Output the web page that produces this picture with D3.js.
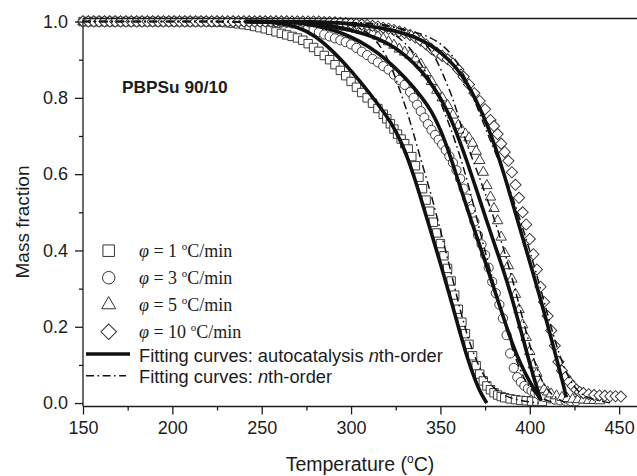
<!DOCTYPE html>
<html>
<head>
<meta charset="utf-8">
<script src="https://cdn.jsdelivr.net/npm/d3@7"></script>
<style>
  body { margin: 0; background: #fff; }
  svg { display: block; }
</style>
</head>
<body>
<div id="chart"></div>
<script>
// measured mass fraction vs temperature, one array per heating rate [T, m]
const rate1 = [
  [150,1],[153,1],[156,1],[159,1],[162,1],[165,1],[168,1],[171,1],[174,1],[177,1],[180,1],[183,1],[186,1],[189,1],[192,1],[195,1],[198,1],[201,1],[204,1],[207,1],[210,1],[213,1],[216,1],[219,1],
  [222,0.999],[225,0.999],[228,0.998],[231,0.997],[234,0.996],[237,0.994],[240,0.992],[243,0.99],[246,0.987],[249,0.984],[252,0.981],[255,0.977],[258,0.973],[261,0.969],[264,0.965],[267,0.961],[270,0.957],
  [273,0.951],[276,0.942],[279,0.932],[282,0.922],[285,0.911],[288,0.9],[291,0.887],[294,0.872],[297,0.858],[300,0.843],[303,0.828],[306,0.814],[309,0.8],[312,0.786],[315,0.772],[318,0.757],
  [320,0.745],[322,0.732],[324,0.718],[326,0.705],[328,0.692],[330,0.68],[332,0.666],[334,0.646],[336,0.622],[338,0.592],[340,0.562],[342,0.532],[344,0.503],[346,0.474],[348,0.446],[350,0.418],
  [352,0.386],[354,0.353],[356,0.32],[358,0.283],[360,0.246],[362,0.212],[364,0.182],[366,0.154],[368,0.124],[370,0.098],[372,0.076],[374,0.058],[376,0.045],[378,0.035],[380,0.027],[382,0.021],
  [384,0.017],[386,0.014],[389,0.011],[392,0.009],[395,0.007],[398,0.006],[401,0.005],[404,0.005],[407,0.004]
];
const rate3 = [
  [150,1],[153,1],[156,1],[159,1],[162,1],[165,1],[168,1],[171,1],[174,1],[177,1],[180,1],[183,1],[186,1],[189,1],[192,1],[195,1],[198,1],[201,1],[204,1],[207,1],[210,1],[213,1],[216,1],[219,1],
  [222,1],[225,1],[228,1],[231,1],[234,1],[237,1],[240,1],[243,1],[246,1],[249,1],[252,1],[255,1],
  [258,0.999],[261,0.998],[264,0.997],[267,0.995],[270,0.993],[273,0.99],[276,0.985],[279,0.978],[282,0.972],[285,0.966],[288,0.961],[291,0.956],[294,0.951],[297,0.946],[300,0.94],
  [303,0.931],[306,0.921],[309,0.912],[312,0.902],[315,0.893],[318,0.883],[321,0.874],[324,0.861],[327,0.847],[330,0.834],[333,0.815],[335,0.8],[337,0.782],[339,0.765],[341,0.748],
  [343,0.731],[345,0.716],[347,0.703],[349,0.69],[351,0.678],[353,0.663],[355,0.647],[357,0.63],[359,0.61],[361,0.588],[363,0.562],[365,0.536],[367,0.508],[369,0.476],[371,0.44],
  [373,0.416],[375,0.388],[377,0.355],[379,0.318],[381,0.288],[383,0.258],[385,0.222],[387,0.178],[389,0.13],[391,0.092],[393,0.068],[395,0.055],[397,0.045],[399,0.038],[401,0.032],
  [403,0.027],[405,0.022],[408,0.016],[411,0.012],[414,0.009],[417,0.007],[420,0.006],[423,0.005],[426,0.005]
];
const rate5 = [
  [150,1],[153,1],[156,1],[159,1],[162,1],[165,1],[168,1],[171,1],[174,1],[177,1],[180,1],[183,1],[186,1],[189,1],[192,1],[195,1],[198,1],[201,1],[204,1],[207,1],[210,1],[213,1],[216,1],[219,1],
  [222,1],[225,1],[228,1],[231,1],[234,1],[237,1],[240,1],[243,1],[246,1],[249,1],[252,1],[255,1],[258,1],[261,1],[264,1],
  [267,0.999],[270,0.999],[273,0.998],[276,0.997],[279,0.996],[282,0.995],[285,0.993],[288,0.991],[291,0.989],[294,0.987],[297,0.985],[300,0.983],[303,0.98],[306,0.977],[309,0.974],
  [312,0.97],[315,0.962],[318,0.955],[321,0.947],[324,0.938],[327,0.928],[330,0.92],[333,0.912],[336,0.902],[339,0.888],[342,0.866],[345,0.843],[348,0.82],[351,0.8],[354,0.78],[357,0.755],
  [360,0.728],[362,0.715],[364,0.705],[366,0.695],[368,0.681],[370,0.66],[372,0.636],[374,0.605],[376,0.57],[378,0.54],[380,0.51],[382,0.478],[384,0.435],[386,0.392],[388,0.36],[390,0.325],
  [392,0.285],[394,0.245],[396,0.205],[398,0.172],[400,0.135],[402,0.1],[404,0.078],[406,0.05],[408,0.036],[410,0.029],[412,0.024],[415,0.019],[418,0.015],[421,0.012],[424,0.01],[427,0.009],
  [430,0.008],[433,0.007],[436,0.007],[439,0.006]
];
const rate10 = [
  [150,1],[153,1],[156,1],[159,1],[162,1],[165,1],[168,1],[171,1],[174,1],[177,1],[180,1],[183,1],[186,1],[189,1],[192,1],[195,1],[198,1],[201,1],[204,1],[207,1],[210,1],[213,1],[216,1],[219,1],
  [222,1],[225,1],[228,1],[231,1],[234,1],[237,1],[240,1],[243,1],[246,1],[249,1],[252,1],[255,1],[258,1],[261,1],[264,1],[267,1],[270,1],[273,1],[276,1],[279,1],[282,1],
  [285,0.999],[288,0.999],[291,0.998],[294,0.997],[297,0.996],[300,0.995],[303,0.994],[306,0.992],[309,0.991],[312,0.989],[315,0.987],[318,0.984],[321,0.981],[324,0.978],[327,0.974],
  [330,0.97],[333,0.965],[336,0.958],[339,0.95],[342,0.94],[345,0.928],[348,0.918],[351,0.91],[354,0.901],[357,0.89],[360,0.874],[363,0.855],[366,0.835],[369,0.812],[372,0.792],[375,0.77],
  [378,0.742],[380,0.726],[382,0.705],[384,0.68],[386,0.658],[388,0.635],[390,0.605],[392,0.572],[394,0.538],[396,0.5],[398,0.468],[400,0.43],[402,0.39],[404,0.35],[406,0.305],[408,0.265],
  [410,0.228],[412,0.19],[414,0.15],[416,0.108],[418,0.085],[420,0.068],[422,0.056],[424,0.045],[426,0.035],[428,0.029],[430,0.026],[433,0.023],[436,0.021],[439,0.02],[442,0.019],
  [445,0.018],[448,0.018],[451,0.017]
];

// fitting curves: autocatalysis nth-order (solid)
const fitAuto1 = [[241,1],[250,0.999],[260,0.996],[270,0.987],[280,0.963],[290,0.922],[300,0.872],[310,0.815],[320,0.752],[325,0.714],[330,0.664],[335,0.598],[340,0.522],[345,0.445],[350,0.366],[355,0.285],[360,0.2],[365,0.118],[370,0.052],[373,0.022],[376,0.0]];
const fitAuto3 = [[241,1],[260,0.999],[270,0.997],[280,0.99],[290,0.978],[300,0.96],[310,0.935],[320,0.9],[330,0.855],[340,0.8],[345,0.765],[350,0.718],[355,0.655],[360,0.582],[365,0.51],[370,0.44],[375,0.372],[380,0.3],[385,0.228],[390,0.158],[395,0.1],[400,0.055],[404,0.024],[406.5,0.006]];
const fitAuto5 = [[241,1],[270,0.999],[290,0.99],[310,0.965],[320,0.945],[330,0.915],[340,0.868],[345,0.836],[350,0.8],[355,0.755],[360,0.697],[365,0.632],[370,0.562],[375,0.49],[380,0.42],[385,0.352],[390,0.277],[395,0.19],[400,0.103],[403,0.055],[406,0.01]];
const fitAuto10 = [[241,1],[280,1],[300,0.995],[320,0.982],[335,0.962],[345,0.938],[355,0.9],[362,0.862],[370,0.795],[376,0.732],[381,0.668],[386,0.594],[390,0.53],[394,0.465],[398,0.402],[402,0.338],[406,0.272],[410,0.205],[413,0.152],[416,0.098],[418,0.062],[420.5,0.015]];

// fitting curves: nth-order (dash-dot)
const fitNth1 = [[150,1],[285,1],[295,0.996],[305,0.985],[312,0.962],[318,0.925],[322,0.888],[326,0.838],[331,0.77],[335,0.706],[340,0.622],[345,0.545],[350,0.452],[355,0.362],[359,0.282],[363,0.21],[367,0.148],[372,0.09],[378,0.045],[386,0.017],[395,0.006],[405,0.0]];
const fitNth3 = [[150,1],[295,1],[310,0.992],[320,0.978],[328,0.955],[335,0.92],[341,0.875],[346,0.83],[350,0.79],[355,0.73],[360,0.662],[364,0.6],[368,0.53],[372,0.452],[376,0.38],[380,0.31],[385,0.225],[390,0.145],[395,0.08],[400,0.038],[406,0.012],[414,0.0]];
const fitNth5 = [[150,1],[305,1],[320,0.992],[332,0.975],[341,0.945],[347,0.91],[352,0.855],[357,0.8],[361,0.735],[365,0.675],[370,0.615],[375,0.55],[380,0.485],[385,0.41],[390,0.33],[395,0.24],[400,0.15],[404,0.088],[408,0.045],[413,0.018],[420,0.0]];
const fitNth10 = [[150,1],[300,1],[313,0.993],[327,0.983],[340,0.968],[350,0.945],[357,0.91],[362,0.874],[369,0.795],[375,0.722],[380,0.665],[385,0.608],[390,0.545],[395,0.475],[400,0.4],[405,0.318],[410,0.232],[415,0.148],[420,0.082],[425,0.04],[430,0.018],[438,0.006],[446,0.0]];

const xTicks = [150, 200, 250, 300, 350, 400, 450];
const xMinor = [175, 225, 275, 325, 375, 425];
const yTicks = [0, 0.2, 0.4, 0.6, 0.8, 1.0];
const yMinor = [0.1, 0.3, 0.5, 0.7, 0.9];
const rateLabels = ["1", "3", "5", "10"];

var width = 637, height = 476;
var margin = {top: 18.5, left: 83, right: 0, bottom: 69.5};
var w = width - margin.left - margin.right;
var h = height - margin.top - margin.bottom;
var ink = "#1c1c1c";

let svg = d3.select("#chart").append("svg")
    .attr("width", width)
    .attr("height", height)
    .style("font-family", "'Liberation Sans', Arial, sans-serif");

let g = svg.append("g")
    .attr("transform", "translate(" + margin.left + "," + margin.top + ")");

let x = d3.scaleLinear().domain([150, 460]).range([0, w]);
let y = d3.scaleLinear().domain([-0.009, 1.008]).range([h, 0]);

// marker shapes
function markerPath(kind, s) {
    if (kind == "square") return d3.symbol(d3.symbolSquare, s * s)();
    if (kind == "circle") return d3.symbol(d3.symbolCircle, Math.PI * s * s / 4)();
    if (kind == "triangle") return d3.symbol(d3.symbolTriangle, s * s * Math.sqrt(3) / 4)();
    return d3.symbol(d3.symbolSquare, s * s * 0.5)();
}

let seriesList = [
    {data: rate1, kind: "square", size: 8.4},
    {data: rate3, kind: "circle", size: 9.2},
    {data: rate5, kind: "triangle", size: 10.5},
    {data: rate10, kind: "diamond", size: 11.2}
];

seriesList.forEach(function (s) {
    g.append("g").selectAll("path")
        .data(s.data)
        .enter().append("path")
        .attr("d", markerPath(s.kind, s.size))
        .attr("transform", function (d) {
            return "translate(" + x(d[0]) + "," + y(d[1]) + ")" + (s.kind == "diamond" ? " rotate(45)" : "");
        })
        .attr("fill", "#fff")
        .attr("stroke", "#333")
        .attr("stroke-width", 0.95);
});

let line = d3.line()
    .x(d => x(d[0]))
    .y(d => y(d[1]))
    .curve(d3.curveBasis);

[fitNth1, fitNth3, fitNth5, fitNth10].forEach(function (d) {
    g.append("path")
        .datum(d)
        .attr("d", line)
        .attr("fill", "none")
        .attr("stroke", "#111")
        .attr("stroke-width", 1.5)
        .attr("stroke-dasharray", "8,3.5,1.6,3.5");
});

[fitAuto1, fitAuto3, fitAuto5, fitAuto10].forEach(function (d) {
    g.append("path")
        .datum(d)
        .attr("d", line)
        .attr("fill", "none")
        .attr("stroke", "#111")
        .attr("stroke-width", 3.6);
});

// top frame line
g.append("line")
    .attr("x1", 0).attr("x2", w)
    .attr("y1", 0).attr("y2", 0)
    .attr("stroke", ink)
    .attr("stroke-width", 1.3);

// axes
let xAxis = g.append("g")
    .attr("transform", "translate(0," + h + ")")
    .call(d3.axisBottom(x).tickValues(xTicks).tickSize(8).tickSizeOuter(0).tickPadding(7));
g.append("g")
    .attr("transform", "translate(0," + h + ")")
    .call(d3.axisBottom(x).tickValues(xMinor).tickSize(4).tickFormat(""))
    .select(".domain").remove();

let yAxis = g.append("g")
    .call(d3.axisLeft(y).tickValues(yTicks).tickSize(8).tickSizeOuter(0).tickPadding(7).tickFormat(d3.format(".1f")));
g.append("g")
    .call(d3.axisLeft(y).tickValues(yMinor).tickSize(4).tickFormat(""))
    .select(".domain").remove();

// axis domain lines spanning the full frame
xAxis.select(".domain").attr("d", "M0,0H" + w);
yAxis.select(".domain").attr("d", "M0," + h + "V0");

g.selectAll(".domain, .tick line")
    .attr("stroke", ink)
    .attr("stroke-width", 1.3);
g.selectAll(".tick text")
    .attr("fill", ink)
    .style("font-size", "18px")
    .style("font-family", "'Liberation Sans', Arial, sans-serif");

// axis titles
let xt = svg.append("text")
    .attr("x", margin.left + w / 2)
    .attr("y", 471)
    .attr("text-anchor", "middle")
    .attr("fill", ink)
    .style("font-size", "19.5px");
xt.append("tspan").text("Temperature (");
xt.append("tspan").attr("dy", -8).style("font-size", "12px").text("o");
xt.append("tspan").attr("dy", 8).text("C)");

svg.append("text")
    .attr("transform", "translate(28.5,222) rotate(-90)")
    .attr("text-anchor", "middle")
    .attr("fill", ink)
    .style("font-size", "19px")
    .text("Mass fraction");

// sample name
svg.append("text")
    .attr("x", 122)
    .attr("y", 92.5)
    .attr("fill", ink)
    .style("font-size", "17.3px")
    .style("font-weight", "bold")
    .text("PBPSu 90/10");

// legend: heating rates
let legendKinds = ["square", "circle", "triangle", "diamond"];
let legendSizes = [11.5, 12.5, 14, 15.5];
legendKinds.forEach(function (k, i) {
    let cy = 250.7 + i * 27;
    svg.append("path")
        .attr("d", markerPath(k, legendSizes[i]))
        .attr("transform", "translate(108.7," + cy + ")" + (k == "diamond" ? " rotate(45)" : ""))
        .attr("fill", "#fff")
        .attr("stroke", "#333")
        .attr("stroke-width", 1);

    let t = svg.append("text")
        .attr("x", 139)
        .attr("y", cy + 6)
        .attr("fill", ink)
        .style("font-family", "'Liberation Serif', 'Times New Roman', serif")
        .style("font-size", "18px");
    t.append("tspan").style("font-style", "italic").text("φ");
    t.append("tspan").text(" = " + rateLabels[i] + " ");
    t.append("tspan").attr("dy", -7).style("font-size", "11px").text("o");
    t.append("tspan").attr("dy", 7).text("C/min");
});

// legend: fitting curves
svg.append("line")
    .attr("x1", 86).attr("x2", 130)
    .attr("y1", 354).attr("y2", 354)
    .attr("stroke", "#111")
    .attr("stroke-width", 3.6);
let t1 = svg.append("text")
    .attr("x", 139).attr("y", 361.5)
    .attr("fill", ink)
    .style("font-size", "18.3px");
t1.append("tspan").text("Fitting curves: autocatalysis ");
t1.append("tspan").style("font-style", "italic").text("n");
t1.append("tspan").text("th-order");

svg.append("line")
    .attr("x1", 86).attr("x2", 126)
    .attr("y1", 375.7).attr("y2", 375.7)
    .attr("stroke", "#111")
    .attr("stroke-width", 1.5)
    .attr("stroke-dasharray", "8,3.5,1.6,3.5");
let t2 = svg.append("text")
    .attr("x", 139).attr("y", 383.3)
    .attr("fill", ink)
    .style("font-size", "18.3px");
t2.append("tspan").text("Fitting curves: ");
t2.append("tspan").style("font-style", "italic").text("n");
t2.append("tspan").text("th-order");
</script>
</body>
</html>
